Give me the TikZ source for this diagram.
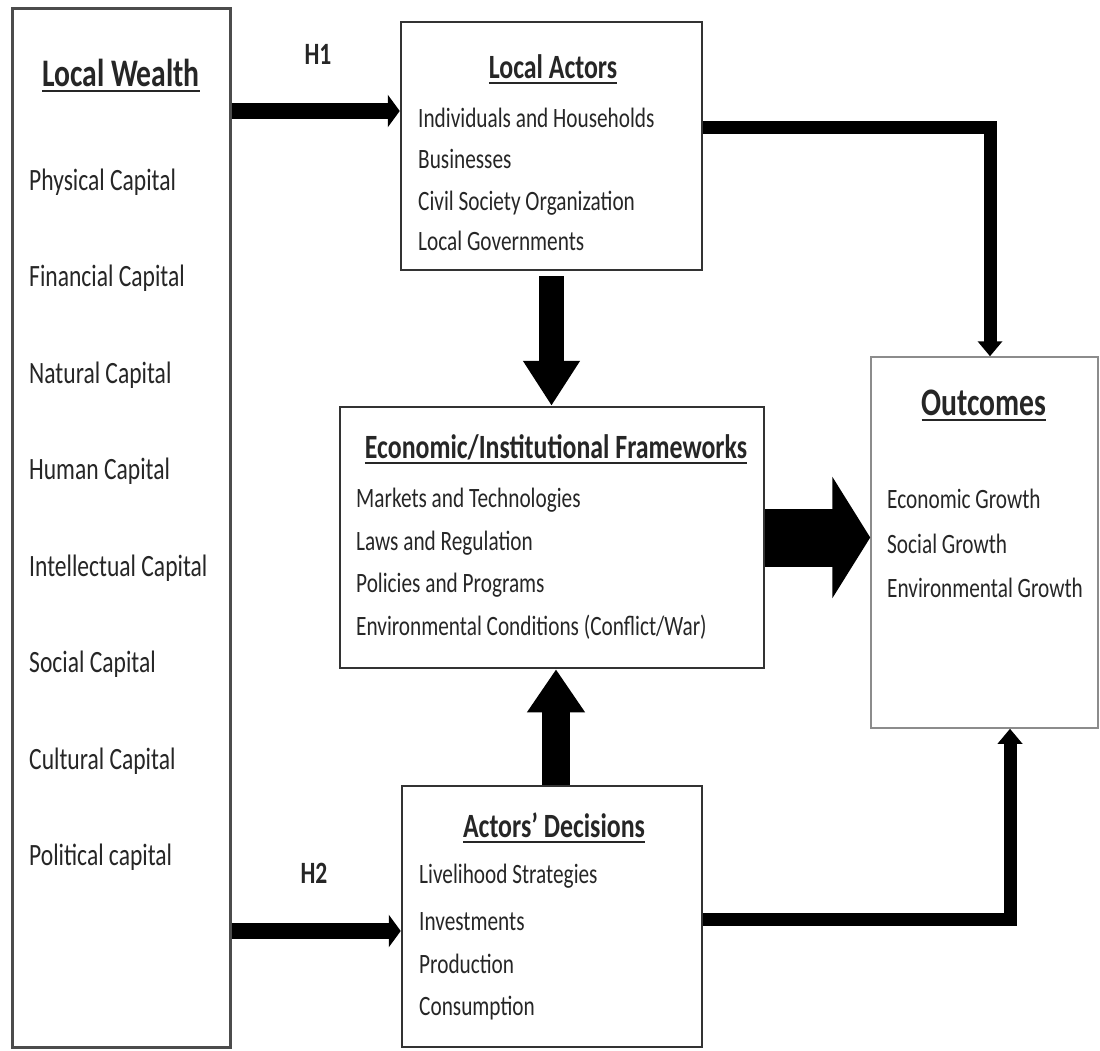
\documentclass[tikz,border=0pt]{standalone}
\usepackage{fontspec}
\setmainfont{Carlito}[FakeStretch=0.76]
\usetikzlibrary{arrows.meta,positioning}
\newsavebox{\titlebox}
\newcommand{\underlined}[1]{\sbox{\titlebox}{#1}\rlap{\rule[-6pt]{\wd\titlebox}{2pt}}\usebox{\titlebox}}

\begin{document}
\begin{tikzpicture}[x=1pt,y=-1pt,
  box/.style={draw=black!80,line width=2.5pt,fill=white,inner sep=0pt},
  item/.style={anchor=base west,inner sep=0pt,text=black!85,font=\fontsize{28}{33}\selectfont},
  capital/.style={item,font=\fontsize{31}{36}\selectfont},
  head/.style={anchor=base,inner sep=0pt,text=black!85,font=\bfseries\fontsize{34}{39}\selectfont},
  bighead/.style={head,font=\bfseries\fontsize{39}{45}\selectfont},
  hyp/.style={head,font=\bfseries\fontsize{31}{36}\selectfont},
  link/.style={line width=16pt,-{Triangle[length=12pt,width=32pt]}},
  elbow/.style={line width=13pt,-{Triangle[length=15pt,width=24pt]}},
  block/.style={-{Triangle[length=45pt,width=54pt]}}]
\useasboundingbox (0,0) rectangle (1100,1050);

\node[box,draw=black!70,line width=3pt,minimum width=218,minimum height=1039] (wealth) at (121,527.5) {};
\node[box,minimum width=301,minimum height=248] (actors) at (551.5,146) {};
\node[box,minimum width=424,minimum height=261] (frame) at (552,537.5) {};
\node[box,draw=black!45,line width=1.5pt,minimum width=227,minimum height=371] (outcomes) at (984.5,542.5) {};
\node[box,minimum width=300,minimum height=261] (decisions) at (552,916.5) {};

\node[bighead] (wealthtitle) at (121,86) {\underlined{Local Wealth}};
\foreach \name [count=\i from 0] in {Physical Capital,Financial Capital,Natural Capital,Human Capital,Intellectual Capital,Social Capital,Cultural Capital,Political capital}
  \node[capital] (cap\i) at (29,190+96.5*\i) {\name};

\node[head] (actorstitle) at (553,78) {\underlined{Local Actors}};
\node[item] (act1) at (418,127) {Individuals and Households};
\node[item] (act2) at (418,168) {Businesses};
\node[item] (act3) at (418,210) {Civil Society Organization};
\node[item] (act4) at (418,250) {Local Governments};

\node[head] (frametitle) at (556,458) {\underlined{Economic/Institutional Frameworks}};
\node[item] (frm1) at (356,507) {Markets and Technologies};
\node[item] (frm2) at (356,550) {Laws and Regulation};
\node[item] (frm3) at (356,592) {Policies and Programs};
\node[item] (frm4) at (356,635) {Environmental Conditions (Conflict/War)};

\node[bighead] (outtitle) at (984,415) {\underlined{Outcomes}};
\node[item] (out1) at (887,508) {Economic Growth};
\node[item] (out2) at (887,553) {Social Growth};
\node[item] (out3) at (887,597) {Environmental Growth};

\node[head] (dectitle) at (554,837) {\underlined{Actors' Decisions}};
\node[item] (dec1) at (419,883) {Livelihood Strategies};
\node[item] (dec2) at (419,930) {Investments};
\node[item] (dec3) at (419,973) {Production};
\node[item] (dec4) at (419,1015) {Consumption};

\node[hyp] (h1) at (318,64) {H1};
\node[hyp] (h2) at (314,883) {H2};

\coordinate (h1in) at ([yshift=35pt]actors.west);
\coordinate (h2in) at ([yshift=-14.5pt]decisions.west);
\coordinate (turn1) at (990,127);
\coordinate (turn2) at (1010,919);

\draw[link] (wealth.east |- h1in) -- (h1in);
\draw[link] (wealth.east |- h2in) -- (h2in);
\draw[elbow] (actors.east |- turn1) -| (outcomes.north -| turn1);
\draw[elbow] (decisions.east |- turn2) -| (outcomes.south -| turn2);
\draw[block,line width=25pt] ([yshift=-5pt]actors.south) -- (actors.south |- frame.north);
\draw[block,line width=28pt,-{Triangle[length=43pt,width=55pt]}] ([xshift=4pt]decisions.north) -- ([xshift=4pt]decisions.north |- frame.south);
\draw[block,line width=58pt,-{Triangle[length=38pt,width=120pt]}] (frame.east) -- (outcomes.west |- frame.east);
\end{tikzpicture}
\end{document}
